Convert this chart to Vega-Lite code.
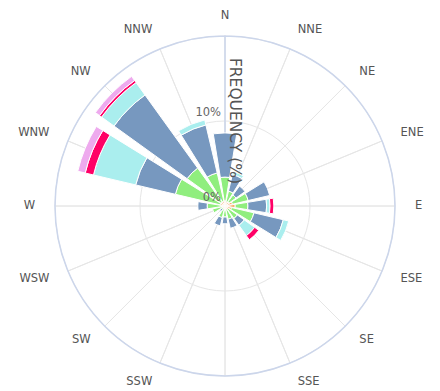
{
  "$schema": "https://vega.github.io/schema/vega-lite/v6.json",
  "width": 430,
  "height": 370,
  "padding": {"left": 10, "top": 21, "right": 0, "bottom": 0},
  "autosize": {"type": "none"},
  "background": "white",
  "config": {"view": {"stroke": null}, "font": "DejaVu Sans"},
  "datasets": {
    "dirs": [
      {"dir": "N"}, {"dir": "NNE"}, {"dir": "NE"}, {"dir": "ENE"},
      {"dir": "E"}, {"dir": "ESE"}, {"dir": "SE"}, {"dir": "SSE"},
      {"dir": "S"}, {"dir": "SSW"}, {"dir": "SW"}, {"dir": "WSW"},
      {"dir": "W"}, {"dir": "WNW"}, {"dir": "NW"}, {"dir": "NNW"}
    ],
    "wind": [
      {"dir": "N", "speed": "0.5-2 m/s", "freq": 0.6},
      {"dir": "N", "speed": "2-4 m/s", "freq": 2.8},
      {"dir": "N", "speed": "4-6 m/s", "freq": 5.2},
      {"dir": "NNE", "speed": "0.5-2 m/s", "freq": 0.5},
      {"dir": "NNE", "speed": "2-4 m/s", "freq": 1.3},
      {"dir": "NNE", "speed": "4-6 m/s", "freq": 2.0},
      {"dir": "NNE", "speed": "6-8 m/s", "freq": 0.35},
      {"dir": "NE", "speed": "0.5-2 m/s", "freq": 0.6},
      {"dir": "NE", "speed": "2-4 m/s", "freq": 1.0},
      {"dir": "NE", "speed": "4-6 m/s", "freq": 1.3},
      {"dir": "ENE", "speed": "0.5-2 m/s", "freq": 0.9},
      {"dir": "ENE", "speed": "2-4 m/s", "freq": 1.9},
      {"dir": "ENE", "speed": "4-6 m/s", "freq": 2.6},
      {"dir": "E", "speed": "0.5-2 m/s", "freq": 1.2},
      {"dir": "E", "speed": "2-4 m/s", "freq": 1.5},
      {"dir": "E", "speed": "4-6 m/s", "freq": 2.2},
      {"dir": "E", "speed": "6-8 m/s", "freq": 0.4},
      {"dir": "E", "speed": "8-10 m/s", "freq": 0.45},
      {"dir": "ESE", "speed": "0.5-2 m/s", "freq": 0.8},
      {"dir": "ESE", "speed": "2-4 m/s", "freq": 2.7},
      {"dir": "ESE", "speed": "4-6 m/s", "freq": 3.55},
      {"dir": "ESE", "speed": "6-8 m/s", "freq": 0.65},
      {"dir": "SE", "speed": "0.5-2 m/s", "freq": 0.5},
      {"dir": "SE", "speed": "2-4 m/s", "freq": 1.3},
      {"dir": "SE", "speed": "4-6 m/s", "freq": 1.0},
      {"dir": "SE", "speed": "6-8 m/s", "freq": 1.5},
      {"dir": "SE", "speed": "8-10 m/s", "freq": 0.6},
      {"dir": "SSE", "speed": "0.5-2 m/s", "freq": 0.4},
      {"dir": "SSE", "speed": "2-4 m/s", "freq": 1.2},
      {"dir": "SSE", "speed": "4-6 m/s", "freq": 1.1},
      {"dir": "S", "speed": "0.5-2 m/s", "freq": 0.5},
      {"dir": "S", "speed": "2-4 m/s", "freq": 0.8},
      {"dir": "S", "speed": "4-6 m/s", "freq": 0.8},
      {"dir": "SSW", "speed": "0.5-2 m/s", "freq": 0.4},
      {"dir": "SSW", "speed": "2-4 m/s", "freq": 1.0},
      {"dir": "SSW", "speed": "4-6 m/s", "freq": 1.0},
      {"dir": "SW", "speed": "0.5-2 m/s", "freq": 0.3},
      {"dir": "SW", "speed": "2-4 m/s", "freq": 0.2},
      {"dir": "SW", "speed": "4-6 m/s", "freq": 0.3},
      {"dir": "WSW", "speed": "0.5-2 m/s", "freq": 0.4},
      {"dir": "WSW", "speed": "2-4 m/s", "freq": 1.1},
      {"dir": "W", "speed": "0.5-2 m/s", "freq": 0.5},
      {"dir": "W", "speed": "2-4 m/s", "freq": 1.6},
      {"dir": "W", "speed": "4-6 m/s", "freq": 1.1},
      {"dir": "WNW", "speed": "0.5-2 m/s", "freq": 0.6},
      {"dir": "WNW", "speed": "2-4 m/s", "freq": 5.4},
      {"dir": "WNW", "speed": "4-6 m/s", "freq": 4.8},
      {"dir": "WNW", "speed": "6-8 m/s", "freq": 5.1},
      {"dir": "WNW", "speed": "8-10 m/s", "freq": 1.0},
      {"dir": "WNW", "speed": "> 10 m/s", "freq": 0.9},
      {"dir": "NW", "speed": "0.5-2 m/s", "freq": 0.6},
      {"dir": "NW", "speed": "2-4 m/s", "freq": 4.9},
      {"dir": "NW", "speed": "4-6 m/s", "freq": 10.6},
      {"dir": "NW", "speed": "6-8 m/s", "freq": 1.8},
      {"dir": "NW", "speed": "8-10 m/s", "freq": 0.3},
      {"dir": "NW", "speed": "> 10 m/s", "freq": 0.6},
      {"dir": "NNW", "speed": "0.5-2 m/s", "freq": 0.6},
      {"dir": "NNW", "speed": "2-4 m/s", "freq": 3.4},
      {"dir": "NNW", "speed": "4-6 m/s", "freq": 5.8},
      {"dir": "NNW", "speed": "6-8 m/s", "freq": 0.6}
    ]
  },
  "layer": [
    {
      "data": {"name": "dirs"},
      "mark": {"type": "arc", "fill": "#ffffff", "fillOpacity": 0, "stroke": "#e6e6e6", "strokeWidth": 1},
      "encoding": {
        "theta": {"field": "dir", "type": "nominal", "scale": {"type": "band", "domain": ["N","NNE","NE","ENE","E","ESE","SE","SSE","S","SSW","SW","WSW","W","WNW","NW","NNW"], "range": [0, 6.283185], "paddingInner": 0, "paddingOuter": 0}},
        "radius": {"datum": 20, "type": "quantitative", "scale": {"type": "linear", "domain": [0, 20], "range": [0, 170], "zero": true, "nice": false}}
      }
    },
    {
      "data": {"values": [{}]},
      "mark": {"type": "arc", "theta": 0, "theta2": 6.283185, "fill": "#ffffff", "fillOpacity": 0, "stroke": "#e6e6e6", "strokeWidth": 1},
      "encoding": {
        "radius": {"datum": 10, "type": "quantitative", "scale": {"type": "linear", "domain": [0, 20], "range": [0, 170], "zero": true, "nice": false}}
      }
    },
    {
      "data": {"values": [{}]},
      "mark": {"type": "arc", "theta": 0, "theta2": 6.283185, "fill": "#ffffff", "fillOpacity": 0, "stroke": "#ccd6eb", "strokeWidth": 1.5},
      "encoding": {
        "radius": {"datum": 20, "type": "quantitative", "scale": {"type": "linear", "domain": [0, 20], "range": [0, 170], "zero": true, "nice": false}}
      }
    },
    {
      "data": {"name": "wind"},
      "transform": [
        {"stack": "freq", "groupby": ["dir"], "sort": [{"field": "speed", "order": "ascending"}], "as": ["r0", "r1"]}
      ],
      "mark": {"type": "arc", "stroke": "#ffffff", "strokeWidth": 1},
      "encoding": {
        "theta": {"field": "dir", "type": "nominal", "scale": {"type": "band", "domain": ["N","NNE","NE","ENE","E","ESE","SE","SSE","S","SSW","SW","WSW","W","WNW","NW","NNW"], "range": [-0.19635, 6.086836], "paddingInner": 0.18, "paddingOuter": 0.09}},
        "radius": {"field": "r1", "type": "quantitative", "scale": {"type": "linear", "domain": [0, 20], "range": [0, 170], "zero": true, "nice": false}},
        "radius2": {"field": "r0"},
        "color": {
          "field": "speed", "type": "nominal",
          "scale": {"domain": ["0.5-2 m/s", "2-4 m/s", "4-6 m/s", "6-8 m/s", "8-10 m/s", "> 10 m/s"], "range": ["#f7a35c", "#90ee7e", "#7798BF", "#aaeeee", "#ff0066", "#eeaaee"]},
          "legend": null
        }
      }
    },
    {
      "data": {"values": [{"t": "FREQUENCY (%)"}]},
      "mark": {"type": "text", "angle": 90, "theta": 0.117, "align": "center", "baseline": "middle", "fontSize": 15.5, "color": "#555555"},
      "encoding": {
        "radius": {"datum": 10.07, "type": "quantitative", "scale": {"type": "linear", "domain": [0, 20], "range": [0, 170], "zero": true, "nice": false}},
        "text": {"field": "t"}
      }
    },
    {
      "data": {"values": [{"t": "0%", "v": 0}, {"t": "10%", "v": 10}]},
      "mark": {"type": "text", "theta": 0, "align": "right", "baseline": "bottom", "dx": -4, "dy": -3, "fontSize": 11.5, "color": "#666666"},
      "encoding": {
        "radius": {"field": "v", "type": "quantitative", "scale": {"type": "linear", "domain": [0, 20], "range": [0, 170], "zero": true, "nice": false}},
        "text": {"field": "t"}
      }
    },
    {
      "data": {"name": "dirs"},
      "transform": [{"filter": {"field": "dir", "oneOf": ["NNE","NE","ENE","E","ESE","SE","SSE"]}}],
      "mark": {"type": "text", "align": "left", "baseline": "middle", "fontSize": 11.5, "color": "#555555"},
      "encoding": {
        "theta": {"field": "dir", "type": "nominal", "bandPosition": 0.5, "scale": {"type": "band", "domain": ["N","NNE","NE","ENE","E","ESE","SE","SSE","S","SSW","SW","WSW","W","WNW","NW","NNW"], "range": [-0.19635, 6.086836], "paddingInner": 0, "paddingOuter": 0}},
        "radius": {"datum": 22.35, "type": "quantitative", "scale": {"type": "linear", "domain": [0, 20], "range": [0, 170], "zero": true, "nice": false}},
        "text": {"field": "dir"}
      }
    },
    {
      "data": {"name": "dirs"},
      "transform": [{"filter": {"field": "dir", "oneOf": ["SSW","SW","WSW","W","WNW","NW","NNW"]}}],
      "mark": {"type": "text", "align": "right", "baseline": "middle", "fontSize": 11.5, "color": "#555555"},
      "encoding": {
        "theta": {"field": "dir", "type": "nominal", "bandPosition": 0.5, "scale": {"type": "band", "domain": ["N","NNE","NE","ENE","E","ESE","SE","SSE","S","SSW","SW","WSW","W","WNW","NW","NNW"], "range": [-0.19635, 6.086836], "paddingInner": 0, "paddingOuter": 0}},
        "radius": {"datum": 22.35, "type": "quantitative", "scale": {"type": "linear", "domain": [0, 20], "range": [0, 170], "zero": true, "nice": false}},
        "text": {"field": "dir"}
      }
    },
    {
      "data": {"name": "dirs"},
      "transform": [{"filter": {"field": "dir", "oneOf": ["N"]}}],
      "mark": {"type": "text", "align": "center", "baseline": "middle", "fontSize": 11.5, "color": "#555555"},
      "encoding": {
        "theta": {"field": "dir", "type": "nominal", "bandPosition": 0.5, "scale": {"type": "band", "domain": ["N","NNE","NE","ENE","E","ESE","SE","SSE","S","SSW","SW","WSW","W","WNW","NW","NNW"], "range": [-0.19635, 6.086836], "paddingInner": 0, "paddingOuter": 0}},
        "radius": {"datum": 22.35, "type": "quantitative", "scale": {"type": "linear", "domain": [0, 20], "range": [0, 170], "zero": true, "nice": false}},
        "text": {"field": "dir"}
      }
    }
  ],
  "resolve": {"scale": {"theta": "independent"}}
}
